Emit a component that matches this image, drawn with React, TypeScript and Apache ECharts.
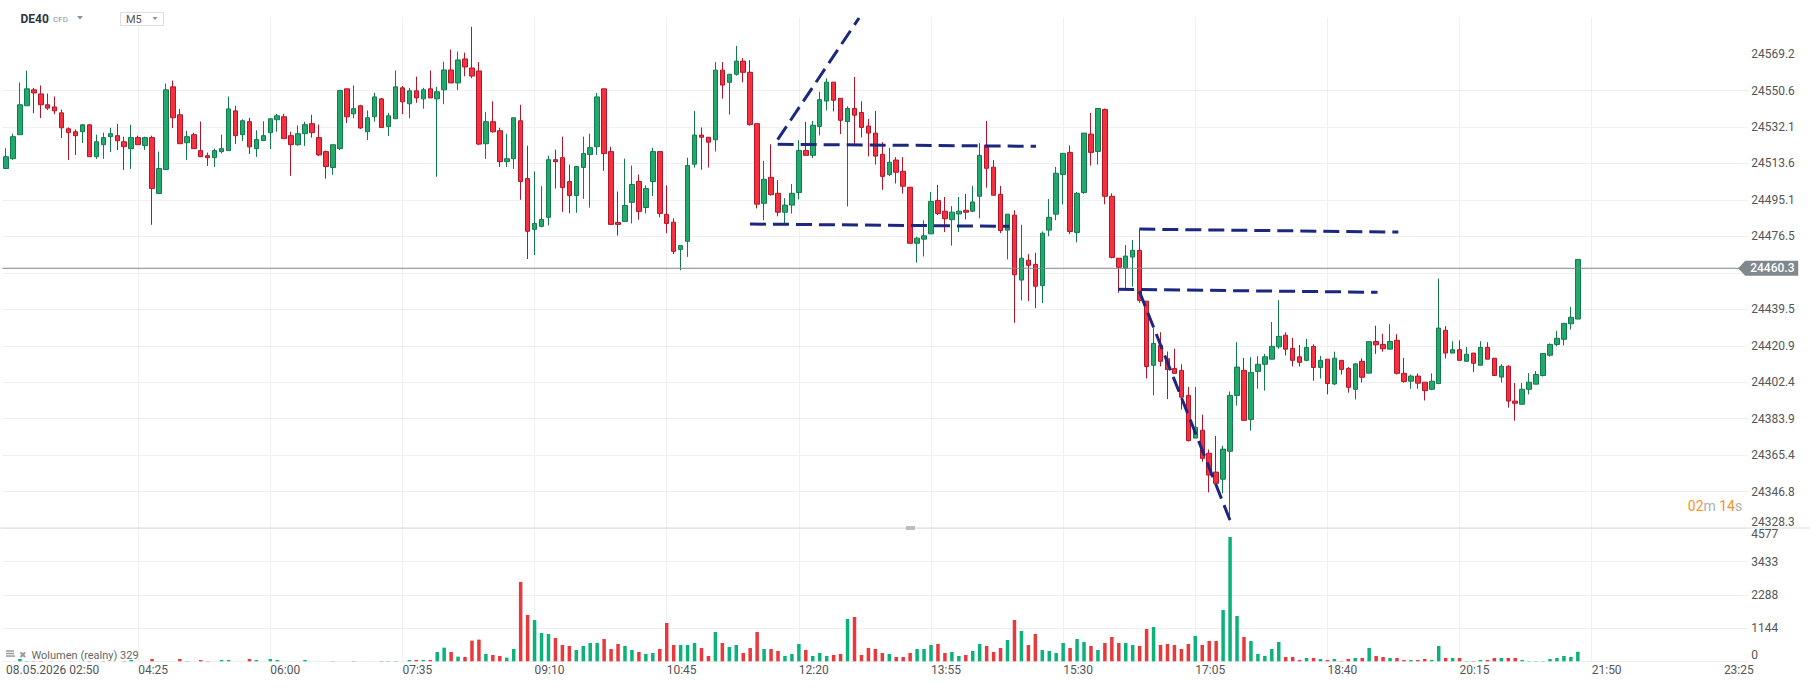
import React, { useEffect, useRef } from "react";
import * as echarts from "echarts";

// ---------- axis / time settings ----------
const DATE_PREFIX = "08.05.2026";
const START_MINUTES = 2 * 60 + 50; // first candle 02:50
const STEP_MINUTES = 5;
const SLOT_COUNT = 251; // candle slots shown on the time axis
const TIME_LABEL_EVERY = 19; // one label every 95 minutes
const TIME_GRID_INDEXES = [0, 19, 38, 57, 76, 95, 114, 133, 152, 171, 190, 209, 228, 247];

const PRICE_TICKS = [
  24328.3, 24346.8, 24365.4, 24383.9, 24402.4, 24420.9, 24439.5, 24458.0,
  24476.5, 24495.1, 24513.6, 24532.1, 24550.6, 24569.2,
];
const PRICE_LABELS = [
  24328.3, 24346.8, 24365.4, 24383.9, 24402.4, 24420.9, 24439.5,
  24476.5, 24495.1, 24513.6, 24532.1, 24550.6, 24569.2,
];
const PRICE_MIN = 24328.3;
const PRICE_MAX = 24587.7;
const VOLUME_TICKS = [0, 1144, 2288, 3433, 4577];
const VOLUME_MAX = 4577;
const LAST_PRICE = 24460.3;
const LAST_VOLUME = 329;

// ---------- candles: [open, close, low, high] ----------
const CANDLES_NIGHT = [
  [24511.0, 24517.0, 24511.0, 24521.3], [24516.0, 24527.2, 24515.4, 24528.7],
  [24528.2, 24543.4, 24528.2, 24554.7], [24542.9, 24551.5, 24542.9, 24560.7],
  [24551.0, 24549.4, 24539.1, 24552.0], [24548.9, 24543.4, 24536.6, 24553.2],
  [24543.4, 24541.7, 24540.7, 24549.1], [24542.3, 24540.3, 24538.6, 24547.6],
  [24539.3, 24531.7, 24526.5, 24541.0], [24531.2, 24529.2, 24515.4, 24531.9],
  [24529.7, 24527.7, 24517.9, 24530.9], [24529.7, 24533.2, 24524.0, 24533.7],
  [24533.2, 24517.0, 24517.0, 24533.7], [24517.0, 24524.6, 24515.9, 24528.2],
  [24523.1, 24526.7, 24515.9, 24529.2], [24527.2, 24528.7, 24519.4, 24531.7],
  [24527.7, 24525.1, 24520.4, 24533.7], [24524.6, 24522.1, 24510.3, 24527.2],
  [24521.1, 24526.7, 24510.8, 24533.2], [24526.7, 24523.1, 24523.1, 24527.7],
  [24522.6, 24526.7, 24520.4, 24527.2], [24526.7, 24500.8, 24482.4, 24527.7],
  [24498.3, 24511.0, 24498.3, 24519.6], [24510.5, 24551.0, 24510.5, 24554.2],
  [24552.5, 24536.8, 24531.5, 24555.7], [24538.3, 24523.6, 24523.6, 24541.3],
  [24524.1, 24527.2, 24515.4, 24530.2], [24528.2, 24521.1, 24521.1, 24529.2],
  [24520.1, 24517.0, 24517.0, 24534.9], [24517.5, 24516.5, 24512.3, 24519.1],
  [24516.5, 24520.1, 24511.8, 24521.1], [24519.6, 24521.1, 24518.6, 24528.2],
  [24520.1, 24541.3, 24520.1, 24547.6], [24540.3, 24527.7, 24523.5, 24542.9],
];

const CANDLES_EARLY = [
  [24528.2, 24535.3, 24525.0, 24536.0], [24534.8, 24522.0, 24518.4, 24536.8],
  [24521.1, 24525.7, 24516.9, 24530.4], [24525.2, 24527.7, 24525.2, 24535.0],
  [24529.2, 24536.3, 24520.9, 24536.3], [24535.8, 24537.8, 24529.7, 24538.8],
  [24537.3, 24526.2, 24526.2, 24538.8], [24527.7, 24523.1, 24507.3, 24529.7],
  [24523.1, 24528.7, 24522.6, 24532.9], [24528.7, 24533.3, 24522.5, 24534.8],
  [24533.8, 24529.2, 24526.7, 24538.3], [24526.7, 24517.9, 24517.4, 24533.3],
  [24519.6, 24512.0, 24505.8, 24520.1], [24511.5, 24523.1, 24507.8, 24523.1],
  [24521.1, 24550.7, 24520.4, 24551.0], [24551.5, 24537.3, 24534.1, 24551.5],
  [24538.8, 24541.4, 24536.5, 24553.2], [24542.9, 24531.6, 24531.1, 24543.4],
  [24529.7, 24536.8, 24525.5, 24540.5], [24537.3, 24547.4, 24534.8, 24549.5],
  [24546.4, 24531.8, 24531.8, 24546.9], [24532.3, 24537.8, 24527.5, 24539.3],
  [24536.3, 24552.5, 24536.3, 24560.8], [24552.0, 24544.9, 24538.7, 24553.0],
  [24543.9, 24550.5, 24536.6, 24552.0], [24550.5, 24546.9, 24544.4, 24557.7],
  [24546.4, 24551.0, 24541.4, 24552.0], [24551.5, 24546.9, 24546.9, 24560.8],
  [24546.4, 24550.0, 24506.8, 24552.5], [24551.0, 24561.1, 24543.7, 24565.3],
  [24561.1, 24554.5, 24554.5, 24571.4], [24554.5, 24566.2, 24550.8, 24570.4],
  [24566.7, 24562.6, 24557.9, 24569.9],
];

const CANDLES_MORNING = [
  [24562.1, 24558.0, 24556.9, 24583.0], [24560.6, 24523.4, 24522.9, 24565.1],
  [24523.6, 24534.8, 24515.9, 24539.8], [24534.8, 24529.7, 24529.2, 24545.1],
  [24530.2, 24514.5, 24511.8, 24531.7], [24514.5, 24516.0, 24511.8, 24528.7],
  [24516.0, 24536.8, 24510.8, 24536.8], [24535.3, 24504.4, 24495.1, 24543.4],
  [24505.9, 24479.1, 24465.0, 24522.6], [24480.1, 24483.1, 24467.0, 24509.5],
  [24481.6, 24485.1, 24481.1, 24502.0], [24486.2, 24515.5, 24482.1, 24517.5],
  [24515.5, 24514.5, 24500.8, 24520.6], [24516.5, 24501.3, 24489.0, 24527.2],
  [24504.4, 24497.3, 24488.2, 24513.0], [24497.3, 24512.0, 24488.5, 24512.0],
  [24511.5, 24518.6, 24495.6, 24527.2], [24518.1, 24521.6, 24491.1, 24528.7],
  [24522.1, 24547.4, 24517.9, 24549.4], [24551.5, 24518.6, 24509.8, 24551.5],
  [24519.6, 24482.6, 24482.6, 24522.1], [24483.6, 24482.6, 24476.9, 24499.3],
  [24484.1, 24492.2, 24484.1, 24516.0], [24493.8, 24502.9, 24483.1, 24512.5],
  [24504.4, 24489.2, 24485.0, 24507.9], [24491.2, 24500.8, 24488.2, 24502.4],
  [24504.4, 24519.6, 24497.1, 24521.6], [24519.6, 24488.2, 24486.2, 24519.6],
  [24487.7, 24483.1, 24478.1, 24502.4], [24483.7, 24468.9, 24467.5, 24485.7],
  [24469.9, 24471.8, 24459.3, 24471.8], [24474.0, 24512.5, 24466.1, 24516.5],
  [24513.2, 24528.0, 24511.5, 24540.3], [24528.0, 24526.9, 24510.4, 24531.9],
  [24526.9, 24524.4, 24511.5, 24526.9], [24525.6, 24561.0, 24519.6, 24565.1],
  [24561.0, 24553.4, 24546.5, 24565.1], [24554.8, 24558.9, 24538.4, 24558.9],
  [24558.9, 24565.6, 24558.2, 24573.3], [24565.6, 24559.9, 24554.8, 24567.1],
  [24559.9, 24533.3, 24532.8, 24566.1], [24533.8, 24492.9, 24490.7, 24533.8],
  [24493.3, 24505.5, 24484.7, 24514.9], [24506.5, 24497.7, 24497.2, 24523.3],
  [24498.4, 24488.8, 24486.7, 24505.1], [24488.8, 24492.4, 24483.3, 24495.9],
  [24492.4, 24498.4, 24488.1, 24503.1],
];

const CANDLES_MIDDAY = [
  [24498.8, 24520.2, 24495.3, 24525.4], [24520.2, 24517.7, 24517.7, 24534.7],
  [24517.7, 24533.0, 24516.3, 24535.2], [24532.4, 24546.0, 24527.8, 24550.0],
  [24545.3, 24554.9, 24540.5, 24556.8], [24554.9, 24545.7, 24540.0, 24554.9],
  [24546.7, 24535.5, 24528.5, 24546.7], [24534.9, 24541.5, 24491.7, 24542.6],
  [24541.5, 24538.1, 24522.8, 24557.5], [24539.5, 24531.9, 24526.8, 24545.2],
  [24532.6, 24529.0, 24517.2, 24536.2], [24529.0, 24517.3, 24513.0, 24540.3],
  [24518.2, 24507.0, 24500.2, 24524.4], [24507.9, 24514.2, 24507.2, 24521.5],
  [24515.3, 24509.1, 24503.4, 24516.8], [24509.6, 24502.0, 24498.3, 24516.8],
  [24501.5, 24473.0, 24473.0, 24501.5], [24473.0, 24475.6, 24463.2, 24476.3],
  [24475.1, 24476.8, 24466.3, 24484.7], [24477.8, 24494.3, 24477.8, 24499.1],
  [24494.8, 24488.1, 24487.3, 24502.7], [24489.3, 24485.5, 24478.7, 24496.5],
  [24485.0, 24488.8, 24471.8, 24491.9], [24487.9, 24489.3, 24478.7, 24496.5],
  [24489.8, 24488.8, 24485.2, 24498.1], [24489.3, 24494.0, 24488.8, 24502.2],
  [24496.9, 24517.7, 24485.7, 24523.9], [24522.8, 24511.1, 24501.3, 24535.2],
  [24511.7, 24497.4, 24497.4, 24515.3], [24497.9, 24479.5, 24478.2, 24502.2],
  [24479.7, 24487.8, 24464.8, 24487.8], [24487.3, 24457.0, 24432.6, 24489.8],
  [24454.3, 24465.4, 24444.0, 24482.4], [24464.4, 24461.8, 24443.6, 24467.5],
  [24462.3, 24451.2, 24440.0, 24468.2], [24451.5, 24478.1, 24442.6, 24479.0],
  [24479.7, 24486.2, 24476.6, 24495.5], [24487.8, 24508.6, 24484.7, 24511.8],
  [24508.0, 24518.7, 24492.8, 24518.7], [24519.2, 24479.0, 24477.6, 24522.7],
  [24478.5, 24498.4, 24473.5, 24499.1], [24498.8, 24529.0, 24498.1, 24529.0],
  [24528.5, 24519.2, 24512.5, 24539.3], [24519.7, 24541.5, 24513.0, 24541.5],
  [24541.0, 24496.9, 24492.8, 24541.5],
];

const CANDLES_EVENING = [
  [24496.9, 24465.8, 24465.3, 24498.4], [24465.4, 24460.8, 24447.9, 24465.4],
  [24460.3, 24466.5, 24450.3, 24472.1], [24466.0, 24469.4, 24451.0, 24474.7],
  [24469.4, 24444.0, 24442.8, 24480.0], [24443.6, 24410.4, 24404.3, 24443.6],
  [24411.0, 24422.1, 24395.7, 24429.9], [24421.1, 24413.0, 24410.4, 24427.8],
  [24414.3, 24408.9, 24393.8, 24418.0], [24409.4, 24406.9, 24406.9, 24419.4],
  [24408.4, 24394.8, 24388.5, 24411.5], [24395.7, 24372.7, 24372.3, 24400.0],
  [24374.0, 24379.5, 24374.0, 24400.0], [24378.0, 24363.7, 24362.0, 24385.9],
  [24366.3, 24355.2, 24346.4, 24368.2], [24356.7, 24351.0, 24351.0, 24375.1],
  [24353.1, 24368.4, 24345.9, 24370.1], [24367.3, 24395.7, 24332.1, 24397.7],
  [24395.7, 24410.1, 24390.5, 24422.8], [24408.4, 24383.0, 24383.0, 24414.8],
  [24383.5, 24407.4, 24377.8, 24415.1], [24407.9, 24411.5, 24399.1, 24415.6],
  [24411.5, 24415.3, 24398.1, 24416.8], [24414.1, 24420.6, 24414.1, 24433.0],
  [24420.4, 24425.7, 24419.4, 24444.1], [24426.3, 24419.2, 24416.0, 24427.8],
  [24419.6, 24413.5, 24410.4, 24424.9], [24415.3, 24412.5, 24410.4, 24421.3],
  [24413.5, 24420.1, 24413.0, 24424.4], [24420.6, 24409.9, 24403.2, 24421.6],
  [24409.9, 24413.5, 24404.3, 24415.8], [24414.1, 24401.7, 24396.2, 24414.1],
  [24401.5, 24414.6, 24401.0, 24417.9], [24413.5, 24408.9, 24406.3, 24413.5],
  [24409.4, 24399.8, 24397.1, 24410.1], [24398.8, 24411.7, 24393.6, 24412.2],
  [24413.0, 24404.9, 24402.2, 24414.6], [24407.0, 24423.0, 24407.0, 24423.0],
  [24423.1, 24421.4, 24416.8, 24431.1], [24421.6, 24419.4, 24417.9, 24427.0],
  [24419.2, 24423.1, 24419.2, 24431.9], [24423.7, 24406.9, 24406.3, 24426.8],
  [24406.9, 24402.7, 24402.2, 24414.8], [24402.9, 24405.5, 24399.1, 24406.3],
  [24405.5, 24401.9, 24399.1, 24406.9], [24402.4, 24398.1, 24393.1, 24402.4],
  [24398.8, 24402.9, 24398.3, 24406.9], [24401.7, 24429.9, 24401.4, 24455.0],
  [24428.8, 24417.2, 24414.4, 24430.9], [24417.2, 24418.9, 24417.2, 24423.2],
  [24418.9, 24413.5, 24413.5, 24423.7], [24413.0, 24416.6, 24413.0, 24420.3],
  [24417.2, 24412.0, 24407.5, 24417.2], [24411.0, 24420.1, 24411.0, 24423.2],
  [24420.1, 24414.1, 24414.1, 24422.7], [24414.6, 24405.8, 24405.8, 24414.6],
  [24405.0, 24410.5, 24402.2, 24411.5], [24410.5, 24392.8, 24389.5, 24411.0],
  [24392.8, 24391.7, 24382.8, 24402.0], [24391.2, 24398.8, 24391.2, 24402.0],
  [24398.8, 24402.4, 24396.2, 24407.0], [24401.4, 24406.3, 24401.4, 24408.1],
  [24405.8, 24417.0, 24405.3, 24417.0], [24416.1, 24421.6, 24415.4, 24422.1],
  [24421.6, 24424.7, 24420.6, 24428.5], [24424.2, 24432.3, 24421.1, 24432.3],
  [24432.1, 24435.4, 24429.2, 24440.7], [24434.5, 24464.8, 24434.5, 24464.8],
];

// ---------- volumes (one per candle) ----------
const VOLUMES_NIGHT = [
  0, 0, 80, 11, 11, 11, 0, 0, 0, 0, 0, 0, 11, 0, 11, 0, 0, 11, 46, 0, 0, 80, 0, 0,
  0, 80, 11, 0, 46, 11, 0, 46, 46, 0,
];
const VOLUMES_EARLY = [
  0, 80, 46, 0, 80, 46, 0, 0, 0, 46, 0, 0, 0, 11, 0, 0, 11, 0, 0, 0, 11, 11, 11, 0,
  46, 46, 46, 46, 321, 470, 321, 161, 149,
];
const VOLUMES_MORNING = [
  711, 746, 252, 218, 184, 126, 424, 2730, 1594, 1422, 975, 941, 803, 562, 528, 390,
  528, 631, 631, 768, 424, 596, 528, 390, 321, 252, 287, 424, 1319, 562, 562, 562,
  631, 459, 184, 1009, 631, 493, 562, 287, 459, 1009, 424, 424, 356, 184, 252,
];
const VOLUMES_MIDDAY = [
  596, 390, 184, 287, 184, 218, 252, 1457, 1526, 218, 459, 424, 287, 252, 149, 149,
  287, 424, 424, 562, 596, 287, 321, 184, 218, 356, 596, 528, 321, 459, 734, 1422,
  1044, 562, 941, 390, 356, 287, 631, 459, 768, 665, 528, 390, 631,
];
const VOLUMES_EVENING = [
  837, 631, 631, 562, 528, 1113, 1181, 562, 596, 562, 424, 596, 872, 562, 700, 700,
  1766, 4278, 1560, 837, 700, 252, 184, 424, 665, 149, 149, 46, 115, 115, 80, 46, 80,
  11, 80, 115, 115, 459, 184, 149, 115, 115, 46, 46, 46, 80, 46, 528, 115, 115, 115,
  11, 11, 46, 46, 115, 115, 115, 115, 46, 11, 11, 11, 80, 115, 184, 149, LAST_VOLUME,
];

// ---------- hand-drawn dashed trend lines: [candle index, price] ----------
const TRENDLINES = [
  [[110.95, 24525.7], [122.65, 24587.5]],
  [[110.95, 24523.3], [148.1, 24522.3]],
  [[106.97, 24482.8], [144.26, 24481.6]],
  [[162.95, 24480.2], [200.2, 24478.7]],
  [[159.9, 24449.6], [197.2, 24448.1]],
  [[162.95, 24448.6], [176.1, 24331.3]],
];

const UP_FILL = "#22a96e";
const UP_BORDER = "#137a4c";
const DOWN_FILL = "#f5303f";
const DOWN_BORDER = "#b3162b";
const VOL_UP = "#0db27a";
const VOL_DOWN = "#e8393d";
const FONT = "Roboto";
const GRID_COLOR = "#f0f0f0";
const NONE = "rgba(0,0,0,0)";

function timeLabel(i: number): string {
  const m = START_MINUTES + i * STEP_MINUTES;
  const h = Math.floor(m / 60) % 24;
  const mm = m % 60;
  return String(h).padStart(2, "0") + ":" + String(mm).padStart(2, "0");
}

export default function App() {
  const ref = useRef<HTMLDivElement>(null);

  useEffect(() => {
    if (!ref.current) return;
    const chart = echarts.init(ref.current, undefined, { renderer: "svg" });

    const candles = [
      ...CANDLES_NIGHT,
      ...CANDLES_EARLY,
      ...CANDLES_MORNING,
      ...CANDLES_MIDDAY,
      ...CANDLES_EVENING,
    ];
    const volumes = [
      ...VOLUMES_NIGHT,
      ...VOLUMES_EARLY,
      ...VOLUMES_MORNING,
      ...VOLUMES_MIDDAY,
      ...VOLUMES_EVENING,
    ];
    const categories = Array.from({ length: SLOT_COUNT }, (_, i) => timeLabel(i));
    const volumeData = volumes.map((v, i) => {
      const c = candles[i];
      const up = c ? c[1] >= c[0] : true;
      return { value: v, itemStyle: { color: up ? VOL_UP : VOL_DOWN } };
    });

    const gridLeft = 2.52;
    const gridWidth = 1745.7;
    const everyNth = (index: number) => index % TIME_LABEL_EVERY === 0;
    const hiddenLine = { show: false, onZero: false, lineStyle: { color: NONE, width: 0 } };

    // value axes laid over the category axes, used for vertical grid lines & trend lines
    const overlayX = (gridIndex: number) => ({
      type: "value",
      gridIndex,
      min: -0.5,
      max: SLOT_COUNT - 0.5,
      show: true,
      axisLine: hiddenLine,
      axisTick: { show: false, customValues: TIME_GRID_INDEXES },
      axisLabel: { show: false },
      splitLine: {
        show: true,
        showMinLine: false,
        showMaxLine: false,
        lineStyle: { color: GRID_COLOR, width: 1 },
      },
    });

    const trendSeries = TRENDLINES.map((seg) => ({
      type: "line",
      xAxisIndex: 2,
      yAxisIndex: 0,
      data: seg,
      symbol: "none",
      silent: true,
      z: 5,
      lineStyle: { color: "#1c2780", width: 3, type: [16, 7] },
    }));

    const option: any = {
      animation: false,
      backgroundColor: "#ffffff",
      textStyle: { fontFamily: FONT },
      grid: [
        { left: gridLeft, width: gridWidth, top: 17.6, height: 510.4, show: false, borderWidth: 0 },
        { left: gridLeft, width: gridWidth, top: 528.3, height: 133, show: false, borderWidth: 0 },
      ],
      xAxis: [
        {
          type: "category",
          gridIndex: 0,
          data: categories,
          boundaryGap: true,
          axisLine: hiddenLine,
          axisTick: { show: false },
          axisLabel: { show: false },
          splitLine: { show: false },
        },
        {
          type: "category",
          gridIndex: 1,
          data: categories,
          boundaryGap: true,
          axisLine: hiddenLine,
          axisTick: { show: false },
          axisLabel: {
            interval: everyNth,
            align: "left",
            margin: 3,
            color: "#555555",
            fontFamily: FONT,
            fontSize: 12,
            formatter: (v: string, idx: number) =>
              idx === 0 ? DATE_PREFIX + " " + v : v,
          },
          splitLine: { show: false },
        },
        overlayX(0),
        overlayX(1),
      ],
      yAxis: [
        {
          type: "value",
          gridIndex: 0,
          position: "right",
          min: PRICE_MIN,
          max: PRICE_MAX,
          axisLine: hiddenLine,
          axisTick: { show: false, customValues: PRICE_TICKS },
          axisLabel: {
            customValues: PRICE_LABELS,
            margin: 3,
            color: "#555555",
            fontFamily: FONT,
            fontSize: 12,
            verticalAlignMinLabel: "bottom",
            formatter: (v: number) => v.toFixed(1),
          },
          splitLine: {
            show: true,
            showMaxLine: false,
            lineStyle: { color: GRID_COLOR, width: 1 },
          },
        },
        {
          type: "value",
          gridIndex: 1,
          position: "right",
          min: 0,
          max: VOLUME_MAX,
          axisLine: hiddenLine,
          axisTick: { show: false, customValues: VOLUME_TICKS },
          axisLabel: {
            customValues: VOLUME_TICKS,
            margin: 3,
            color: "#555555",
            fontFamily: FONT,
            fontSize: 12,
            verticalAlignMinLabel: "bottom",
            verticalAlignMaxLabel: "top",
            formatter: (v: number) => String(Math.round(v)),
          },
          splitLine: { show: true, lineStyle: { color: GRID_COLOR, width: 1 } },
        },
      ],
      series: [
        {
          type: "candlestick",
          xAxisIndex: 0,
          yAxisIndex: 0,
          data: candles,
          barWidth: 5,
          z: 3,
          itemStyle: {
            color: UP_FILL,
            color0: DOWN_FILL,
            borderColor: UP_BORDER,
            borderColor0: DOWN_BORDER,
            borderWidth: 1,
          },
        },
        {
          type: "bar",
          xAxisIndex: 1,
          yAxisIndex: 1,
          data: volumeData,
          barWidth: 3.5,
        },
        ...trendSeries,
      ],
    };
    chart.setOption(option);

    // overlays positioned from the chart's own scales
    const yLast = chart.convertToPixel({ yAxisIndex: 0 }, LAST_PRICE) as number;
    const yBottom = chart.convertToPixel({ yAxisIndex: 0 }, PRICE_MIN) as number;
    const xLeft = chart.convertToPixel({ xAxisIndex: 2 }, -0.5) as number;
    const xRight = chart.convertToPixel({ xAxisIndex: 2 }, SLOT_COUNT - 0.5) as number;
    const volBase = chart.convertToPixel({ yAxisIndex: 1 }, 0) as number;

    chart.setOption({
      graphic: [
        // last price line
        {
          type: "line",
          shape: { x1: xLeft, y1: yLast, x2: xRight - 8, y2: yLast },
          style: { stroke: "#7e878d", lineWidth: 1 },
          z: 9,
        },
        // pane separator
        {
          type: "line",
          shape: { x1: 0, y1: yBottom, x2: 1810, y2: yBottom },
          style: { stroke: "#dcdcdc", lineWidth: 1 },
          z: 10,
        },
        {
          type: "rect",
          shape: { x: 906, y: yBottom - 2, width: 9, height: 4 },
          style: { fill: "#bdbdbd" },
          z: 11,
        },
        // last price tag
        {
          type: "polygon",
          shape: {
            points: [
              [xRight - 10, yLast],
              [xRight - 3, yLast - 7.5],
              [xRight + 50, yLast - 7.5],
              [xRight + 50, yLast + 7.5],
              [xRight - 3, yLast + 7.5],
            ],
          },
          style: { fill: "#80888e" },
          z: 12,
        },
        {
          type: "text",
          x: xRight + 2,
          y: yLast,
          style: {
            text: LAST_PRICE.toFixed(1),
            fill: "#ffffff",
            font: "500 12px Roboto",
            align: "left",
            verticalAlign: "middle",
          },
          z: 13,
        },
        // candle countdown
        {
          type: "text",
          x: xRight - 6,
          y: yBottom - 22,
          style: {
            text: "{o|02}{g|m} {o|14}{g|s}",
            align: "right",
            verticalAlign: "middle",
            font: "14px Roboto",
            rich: {
              o: { fill: "#f7941d", color: "#f7941d", fontSize: 14, fontFamily: FONT },
              g: { fill: "#aab0b6", color: "#aab0b6", fontSize: 14, fontFamily: FONT },
            },
          },
          z: 12,
        },
        // header
        {
          type: "text",
          x: 20.5,
          y: 18.5,
          style: {
            text: "DE40",
            fill: "#2b3640",
            font: "bold 12px Roboto",
            verticalAlign: "middle",
          },
          z: 12,
        },
        {
          type: "text",
          x: 53,
          y: 19,
          style: { text: "CFD", fill: "#8a9299", font: "8px Roboto", verticalAlign: "middle" },
          z: 12,
        },
        {
          type: "polygon",
          shape: { points: [[77, 16], [83, 16], [80, 19.5]] },
          style: { fill: "#8a9299" },
          z: 12,
        },
        {
          type: "rect",
          shape: { x: 120.5, y: 12.5, width: 43, height: 13 },
          style: { fill: "#ffffff", stroke: "#dedede", lineWidth: 1 },
          z: 12,
        },
        {
          type: "text",
          x: 126,
          y: 19.2,
          style: { text: "M5", fill: "#555555", font: "11px Roboto", verticalAlign: "middle" },
          z: 13,
        },
        {
          type: "polygon",
          shape: { points: [[152.5, 17], [157.5, 17], [155, 20]] },
          style: { fill: "#8a9299" },
          z: 13,
        },
        // volume legend
        {
          type: "rect",
          shape: { x: 6, y: volBase - 11, width: 8, height: 1.5 },
          style: { fill: "#9a9a9a" },
          z: 12,
        },
        {
          type: "rect",
          shape: { x: 6, y: volBase - 8.5, width: 8, height: 1.5 },
          style: { fill: "#9a9a9a" },
          z: 12,
        },
        {
          type: "rect",
          shape: { x: 6, y: volBase - 6, width: 9, height: 1.5 },
          style: { fill: "#9a9a9a" },
          z: 12,
        },
        {
          type: "text",
          x: 19,
          y: volBase - 6.5,
          style: { text: "✖", fill: "#9a9a9a", font: "9px DejaVu Sans", verticalAlign: "middle" },
          z: 12,
        },
        {
          type: "text",
          x: 31.5,
          y: volBase - 6,
          style: {
            text: "Wolumen (realny) " + LAST_VOLUME,
            fill: "#666666",
            font: "11px Roboto",
            verticalAlign: "middle",
          },
          z: 12,
        },
      ],
    });

    return () => chart.dispose();
  }, []);

  return (
    <div
      ref={ref}
      style={{
        position: "fixed",
        left: 0,
        top: 0,
        width: 1810,
        height: 688,
        background: "#ffffff",
      }}
    />
  );
}
